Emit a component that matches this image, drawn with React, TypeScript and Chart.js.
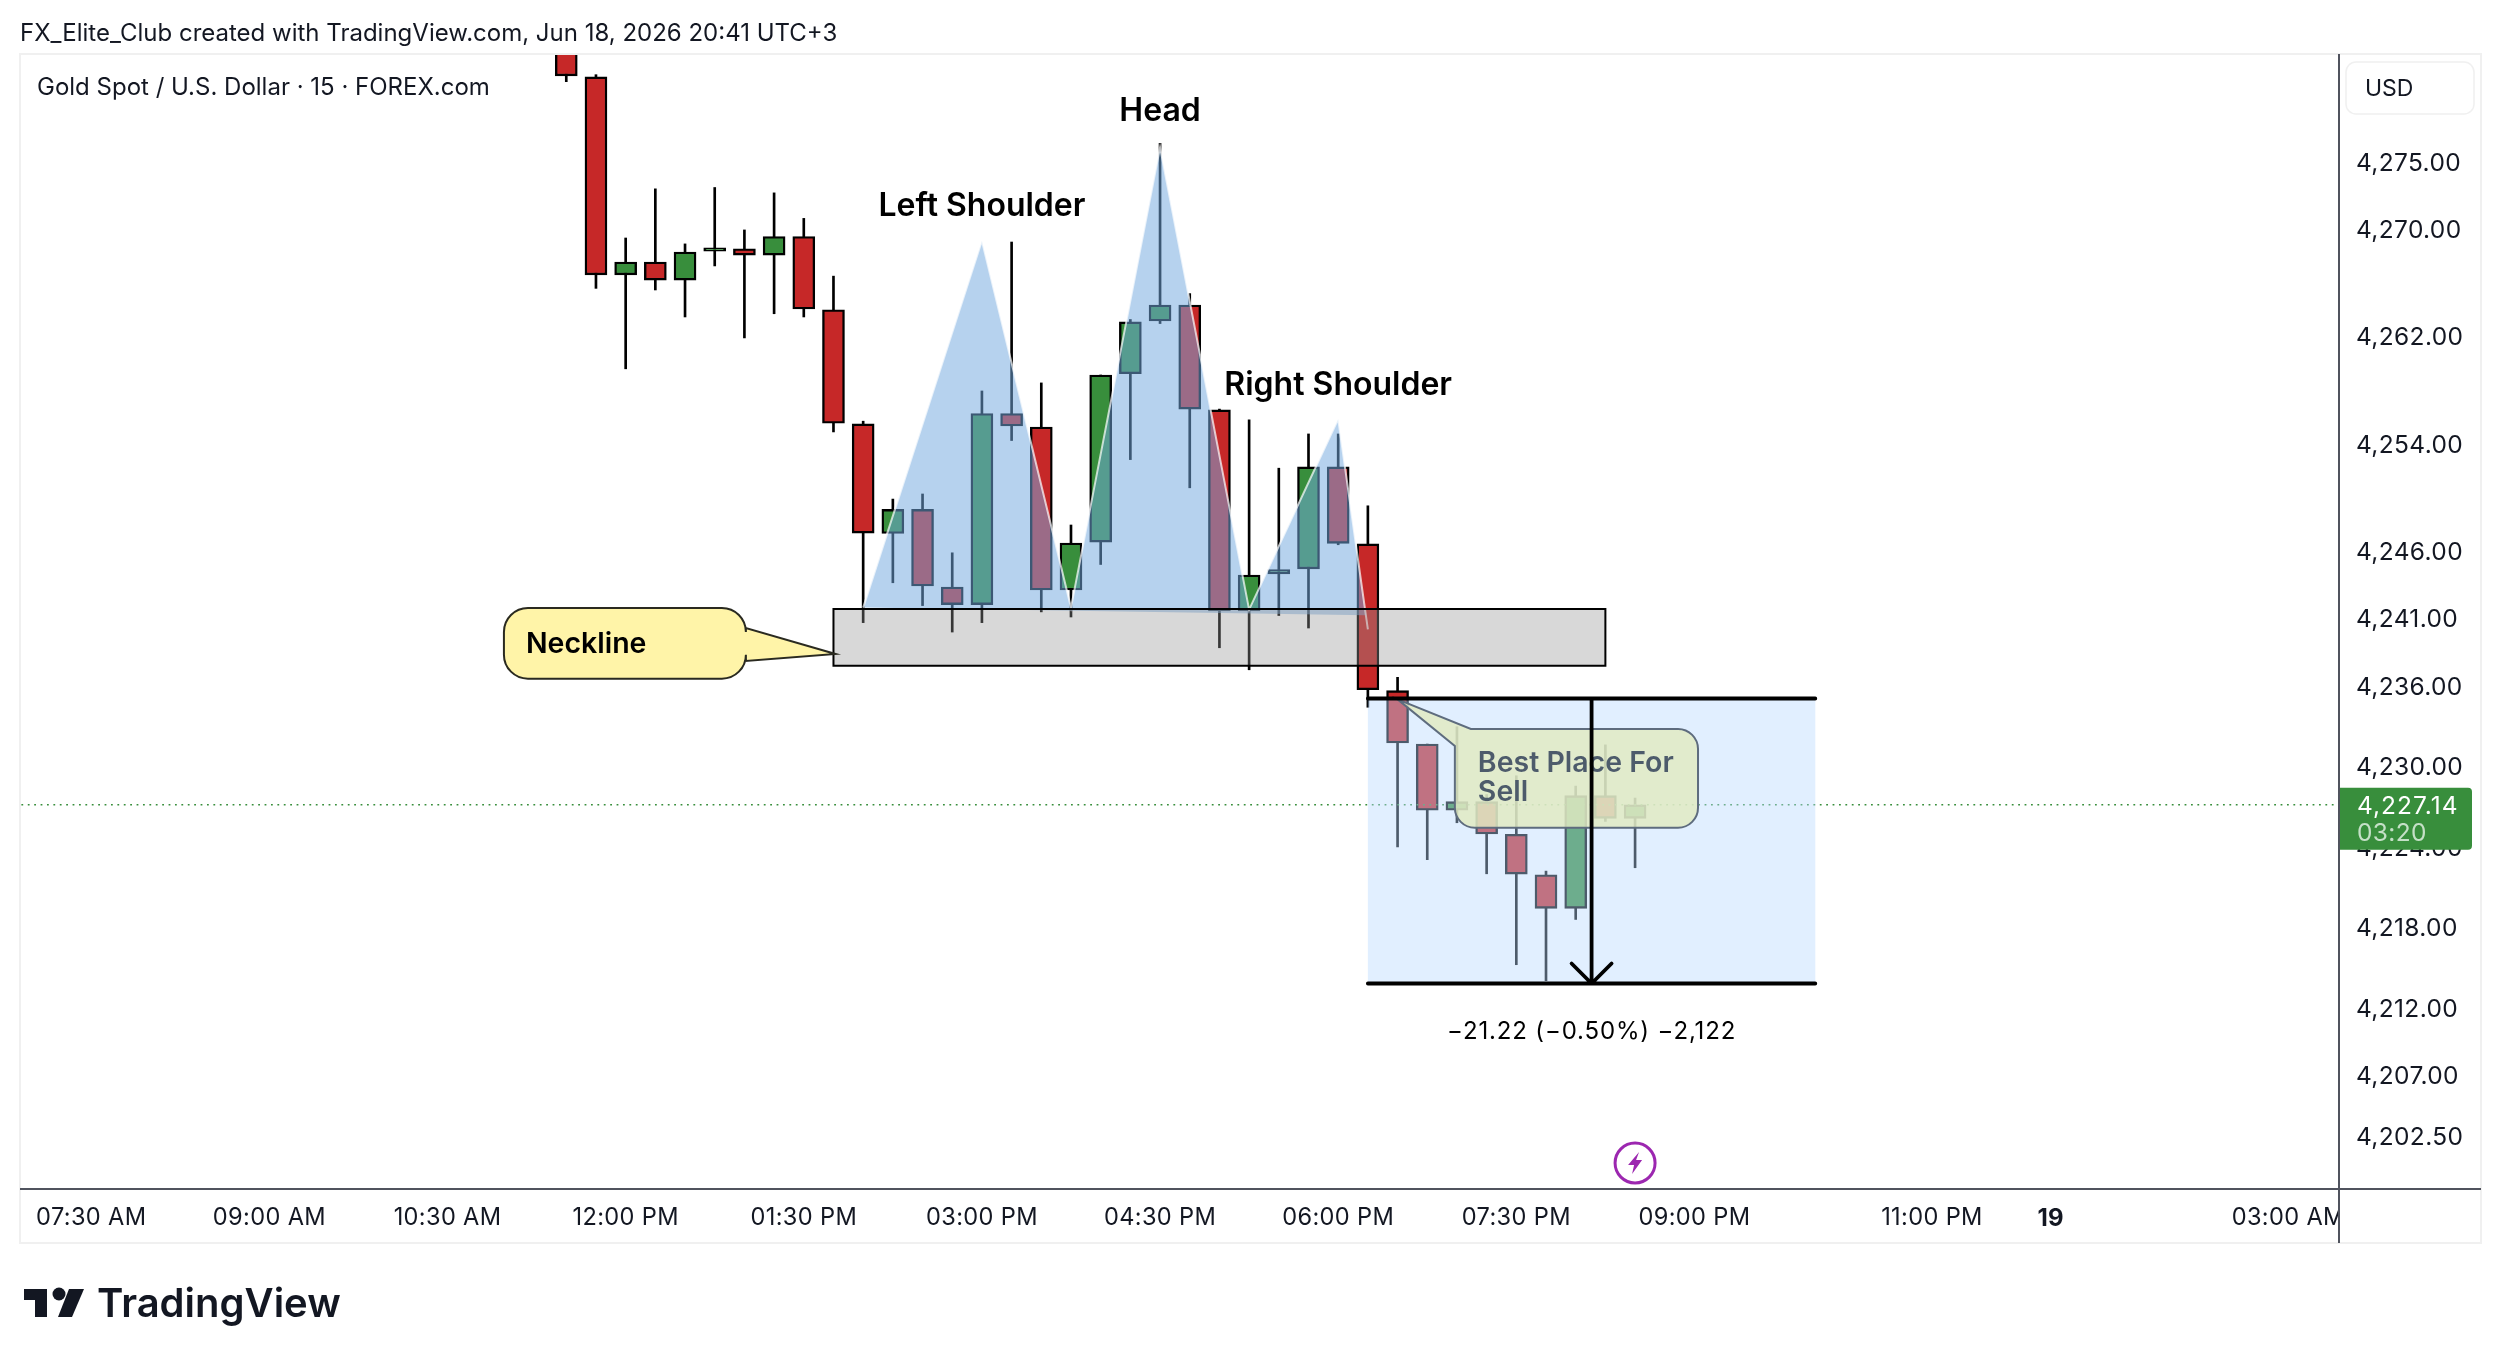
import React, { useEffect, useRef } from "react";
import { Chart, registerables } from "chart.js";

Chart.register(...registerables);

const CANVAS_W = 2502;
const CANVAS_H = 1364;
const FONT = "Inter, 'Noto Sans', sans-serif";

// 15 minute candles, first one is bar 16 (counted from the 07:30 AM label)
const firstBar = 16;
const opens = [
  4284.6, 4281.34, 4266.59, 4267.55, 4266.2, 4268.35, 4268.54, 4268.07, 4269.45, 4264.0, 4255.5, 4247.34, 4249.13,
  4243.35, 4242.04, 4256.27, 4255.27, 4243.13, 4246.7, 4259.23, 4263.16, 4264.35, 4256.54, 4241.57, 4244.32, 4244.7,
  4252.3, 4246.57, 4235.64, 4231.66, 4226.73, 4227.37, 4224.94, 4221.93, 4219.43, 4227.82, 4226.13,
];
const closes = [
  4281.41, 4266.59, 4267.55, 4266.2, 4268.3, 4268.6, 4268.07, 4269.45, 4264.05, 4255.55, 4247.37, 4249.13, 4243.43,
  4242.04, 4256.27, 4255.34, 4243.13, 4246.63, 4259.14, 4263.09, 4264.35, 4256.6, 4241.57, 4244.25, 4244.66, 4252.3,
  4246.6, 4235.7, 4231.74, 4226.73, 4227.37, 4224.96, 4221.98, 4219.43, 4227.82, 4226.13, 4227.14,
];
const highs = [
  4285, 4281.5, 4269.34, 4273.0, 4268.9, 4273.1, 4269.94, 4272.7, 4270.8, 4266.5, 4255.7, 4249.9, 4250.28, 4245.9,
  4257.95, 4269.04, 4258.55, 4247.97, 4259.14, 4263.27, 4276.39, 4265.2, 4256.6, 4255.8, 4252.2, 4254.75, 4254.75,
  4249.4, 4236.63, 4231.66, 4232.95, 4227.9, 4229.3, 4222.2, 4228.53, 4231.6, 4227.64,
];
const lows = [
  4280.98, 4265.59, 4259.6, 4265.47, 4263.46, 4267.26, 4261.9, 4263.7, 4263.46, 4254.9, 4240.7, 4243.67, 4241.97,
  4240.0, 4240.7, 4254.26, 4241.5, 4241.12, 4245.03, 4252.84, 4262.97, 4250.74, 4238.83, 4237.19, 4241.23, 4240.3,
  4246.5, 4234.4, 4224.0, 4223.05, 4225.8, 4222.0, 4215.23, 4214.04, 4218.6, 4225.9, 4222.45,
];

const priceTicks = [4275, 4270, 4262, 4254, 4246, 4241, 4236, 4230, 4224, 4218, 4212, 4207, 4202.5];
const timeTickBars = [0, 6, 12, 18, 24, 30, 36, 42, 48, 54, 62, 66, 74];
const timeTickLabels = [
  "07:30 AM", "09:00 AM", "10:30 AM", "12:00 PM", "01:30 PM", "03:00 PM", "04:30 PM",
  "06:00 PM", "07:30 PM", "09:00 PM", "11:00 PM", "19", "03:00 AM",
];

// head and shoulders outline, bar and price of every turn
const patternBars = [26, 30, 33, 36, 39, 42, 43];
const patternPrices = [4241.82, 4269.14, 4241.82, 4276.09, 4241.67, 4255.86, 4240.2];
// where the filled part of the shape stops on its way down to the last turn
const patternFillEndBar = 42.93;
const patternFillEndPrice = 4241.25;

const lastPrice = 4227.14;
const countdown = "03:20";
const measureTop = 4235.05;
const measureBottom = 4213.83;

const GREEN = "#388e3c";
const RED = "#c62828";
const TEXT = "#131722";

const fmtPrice = (v: number) =>
  v.toLocaleString("en-US", { minimumFractionDigits: 2, maximumFractionDigits: 2 });

const bars = opens.map((_, k) => firstBar + k);
const patternLine = patternBars.map((b, k) => ({ x: b, y: patternPrices[k] }));

function calloutCorners(ctx: CanvasRenderingContext2D, pts: number[][], rad: number) {
  // pts are the corners to round, pen is already placed
  pts.forEach(([x1, y1, x2, y2]) => ctx.arcTo(x1, y1, x2, y2, rad));
}

const overlayPlugin = {
  id: "overlay",
  beforeDraw(chart: any) {
    const { ctx } = chart;
    ctx.save();
    ctx.fillStyle = "#ffffff";
    ctx.fillRect(0, 0, CANVAS_W, CANVAS_H);
    ctx.restore();
    // the axis labels are a bit wider set than the plain font
    ctx.letterSpacing = "0.35px";
  },
  beforeDatasetsDraw(chart: any) {
    chart.ctx.letterSpacing = "0px";
  },
  afterDatasetsDraw(chart: any) {
    const { ctx } = chart;
    const xs = chart.scales.x;
    const ys = chart.scales.y;
    const px = (v: number) => xs.getPixelForValue(v);
    const py = (v: number) => ys.getPixelForValue(v);

    ctx.save();

    // neckline box
    ctx.fillStyle = "rgba(150,150,150,0.37)";
    ctx.strokeStyle = "#000000";
    ctx.lineWidth = 2;
    ctx.beginPath();
    ctx.rect(px(25), py(4241.72), px(51) - px(25), py(4237.49) - py(4241.72));
    ctx.fill();
    ctx.stroke();

    // neckline callout
    {
      const l = px(13.9), r = px(22.05), t = py(4241.79), b = py(4236.53), rad = 24;
      ctx.beginPath();
      ctx.moveTo(l + rad, t);
      calloutCorners(ctx, [[r, t, r, t + rad]], rad);
      ctx.lineTo(r, t + 20);
      ctx.lineTo(px(25.07), py(4238.37));
      ctx.lineTo(r, t + 53);
      calloutCorners(ctx, [[r, b, r - rad, b], [l, b, l, b - rad], [l, t, l + rad, t]], rad);
      ctx.closePath();
      ctx.fillStyle = "#fff4a8";
      ctx.strokeStyle = "#2a2a20";
      ctx.lineWidth = 2;
      ctx.fill();
      ctx.stroke();
      ctx.fillStyle = "#000000";
      ctx.font = `600 28.5px ${FONT}`;
      ctx.textAlign = "left";
      ctx.textBaseline = "middle";
      ctx.fillText("Neckline", l + 22, (t + b) / 2 + 1.5);
    }

    // sell callout
    {
      const l = px(45.93), r = px(54.12), t = py(4232.78), b = py(4225.43), rad = 20;
      ctx.beginPath();
      ctx.moveTo(l + 16, t);
      calloutCorners(ctx, [[r, t, r, t + rad], [r, b, r - rad, b], [l, b, l, b - rad]], rad);
      ctx.lineTo(l, t + 17);
      ctx.lineTo(px(44), py(4234.99));
      ctx.closePath();
      ctx.fillStyle = "rgba(255,246,150,0.83)";
      ctx.strokeStyle = "#1e1e22";
      ctx.lineWidth = 2;
      ctx.fill();
      ctx.stroke();
      ctx.fillStyle = "#000000";
      ctx.font = `600 28.5px ${FONT}`;
      ctx.textAlign = "left";
      ctx.textBaseline = "middle";
      ctx.fillText("Best Place For", l + 23, t + 34);
      ctx.fillText("Sell", l + 23, t + 63);
    }

    // measure box goes over everything below it
    const ml = px(43), mr = px(58.07), mt = py(measureTop), mb = py(measureBottom);
    ctx.fillStyle = "rgba(183,217,255,0.42)";
    ctx.fillRect(ml, mt, mr - ml, mb - mt);
    ctx.strokeStyle = "#000000";
    ctx.lineWidth = 3.8;
    ctx.lineCap = "round";
    ctx.lineJoin = "round";
    ctx.beginPath();
    ctx.moveTo(ml, mt);
    ctx.lineTo(mr, mt);
    ctx.moveTo(ml, mb);
    ctx.lineTo(mr, mb);
    const mx = (ml + mr) / 2;
    ctx.moveTo(mx, mt);
    ctx.lineTo(mx, mb);
    ctx.moveTo(mx - 20, mb - 20);
    ctx.lineTo(mx, mb);
    ctx.lineTo(mx + 20, mb - 20);
    ctx.stroke();

    ctx.fillStyle = "#000000";
    ctx.textAlign = "center";
    ctx.textBaseline = "middle";
    ctx.font = `400 24px ${FONT}`;
    ctx.letterSpacing = "0.85px";
    ctx.fillText("\u221221.22 (\u22120.50%) \u22122,122", mx, mb + 48);
    ctx.letterSpacing = "0px";

    // pattern labels
    ctx.font = `600 32px ${FONT}`;
    ctx.fillText("Left Shoulder", px(30), py(4271.7));
    ctx.fillText("Head", px(36), py(4278.75));
    ctx.fillText("Right Shoulder", px(42), py(4258.4));

    // lightning marker
    const ex = px(52), ey = 1163;
    ctx.strokeStyle = "#9c27b0";
    ctx.lineWidth = 3;
    ctx.fillStyle = "#ffffff";
    ctx.beginPath();
    ctx.arc(ex, ey, 20, 0, Math.PI * 2);
    ctx.fill();
    ctx.stroke();
    ctx.fillStyle = "#9c27b0";
    ctx.beginPath();
    ctx.moveTo(ex + 4, ey - 11);
    ctx.lineTo(ex - 7, ey + 2);
    ctx.lineTo(ex - 1, ey + 2);
    ctx.lineTo(ex - 3, ey + 11);
    ctx.lineTo(ex + 7, ey - 3);
    ctx.lineTo(ex + 1, ey - 3);
    ctx.closePath();
    ctx.fill();

    ctx.restore();
  },
  afterDraw(chart: any) {
    const { ctx, chartArea } = chart;
    const { left, right, top, bottom } = chartArea;
    const paneRight = 2481;
    const paneBottom = 1243;
    const ys = chart.scales.y;
    ctx.save();

    // time labels stop at the price axis
    ctx.fillStyle = "#ffffff";
    ctx.fillRect(right, bottom + 1, paneRight - right, paneBottom - bottom - 2);

    // pane border
    ctx.strokeStyle = "#f0f0f0";
    ctx.lineWidth = 2;
    ctx.strokeRect(left, top, paneRight - left, paneBottom - top);

    // axis lines
    ctx.strokeStyle = "#50535e";
    ctx.lineWidth = 2;
    ctx.beginPath();
    ctx.moveTo(right, top);
    ctx.lineTo(right, paneBottom);
    ctx.moveTo(left, bottom);
    ctx.lineTo(paneRight, bottom);
    ctx.stroke();

    // currency button
    ctx.strokeStyle = "#f0f0f0";
    ctx.lineWidth = 1.5;
    ctx.beginPath();
    ctx.roundRect(right + 7, 62, 128, 52, 10);
    ctx.stroke();
    ctx.fillStyle = TEXT;
    ctx.font = `400 23px ${FONT}`;
    ctx.textAlign = "left";
    ctx.textBaseline = "middle";
    ctx.fillText("USD", right + 26, 89.5);

    // last price badge
    const ly = ys.getPixelForValue(lastPrice);
    ctx.fillStyle = GREEN;
    ctx.beginPath();
    ctx.roundRect(right + 1, ly - 17, 132, 62, [0, 4, 4, 0]);
    ctx.fill();
    ctx.font = `400 24.5px ${FONT}`;
    ctx.letterSpacing = "1px";
    ctx.fillStyle = "#ffffff";
    ctx.fillText(fmtPrice(lastPrice), right + 18, ly + 1.5);
    ctx.letterSpacing = "0.35px";
    ctx.fillStyle = "#c5e0c7";
    ctx.fillText(countdown, right + 18, ly + 28.5);
    ctx.letterSpacing = "0px";

    // page header and legend
    ctx.fillStyle = TEXT;
    ctx.font = `400 24px ${FONT}`;
    ctx.fillText("FX_Elite_Club created with TradingView.com, Jun 18, 2026 20:41 UTC+3", 20, 33.5);
    ctx.fillText("Gold Spot / U.S. Dollar \u00b7 15 \u00b7 FOREX.com", 37, 87.5);

    // logo
    ctx.fillStyle = "#131722";
    ctx.fillRect(24, 1289, 23, 11);
    ctx.fillRect(35, 1289, 12, 28);
    ctx.beginPath();
    ctx.arc(59, 1294, 6.5, 0, Math.PI * 2);
    ctx.fill();
    ctx.beginPath();
    ctx.moveTo(69, 1289);
    ctx.lineTo(84, 1289);
    ctx.lineTo(72, 1317);
    ctx.lineTo(58, 1317);
    ctx.closePath();
    ctx.fill();
    ctx.font = `600 40px ${FONT}`;
    ctx.textBaseline = "alphabetic";
    ctx.fillText("TradingView", 97, 1317);

    ctx.restore();
  },
};

export default function App() {
  const canvasRef = useRef<HTMLCanvasElement | null>(null);

  useEffect(() => {
    if (!canvasRef.current) return;
    document.body.style.margin = "0";
    document.body.style.background = "#ffffff";

    const chart = new Chart(canvasRef.current, {
      type: "bar",
      data: {
        datasets: [
          {
            // wicks
            data: bars.map((b, k) => ({ x: b, y: [lows[k], highs[k]] })),
            backgroundColor: "#000000",
            borderWidth: 0,
            barThickness: 2,
            grouped: false,
            order: 6,
            clip: 0,
          },
          {
            // bodies
            data: bars.map((b, k) => ({ x: b, y: [opens[k], closes[k]] })),
            backgroundColor: bars.map((_, k) => (closes[k] >= opens[k] ? GREEN : RED)),
            borderColor: "#000000",
            borderWidth: 2.4,
            borderSkipped: false,
            barThickness: 22,
            grouped: false,
            order: 5,
            clip: 0,
          },
          {
            type: "line",
            // the last price dotted line
            data: [
              { x: -3, y: lastPrice },
              { x: 76, y: lastPrice },
            ],
            borderColor: GREEN,
            borderWidth: 1.6,
            borderDash: [1.8, 4.6],
            pointRadius: 0,
            order: 4,
          },
          {
            type: "line",
            // head and shoulders fill
            data: patternLine
              .slice(0, -1)
              .concat({ x: patternFillEndBar, y: patternFillEndPrice }, patternLine[0]),
            backgroundColor: "rgba(115,168,222,0.52)",
            borderWidth: 0,
            pointRadius: 0,
            tension: 0,
            fill: "shape",
            order: 3,
          },
          {
            type: "line",
            // head and shoulders outline
            data: patternLine,
            borderColor: "rgba(255,255,255,0.7)",
            borderWidth: 2,
            pointRadius: 0,
            tension: 0,
            fill: false,
            order: 2,
          },
        ],
      } as any,
      options: {
        animation: false,
        responsive: false,
        devicePixelRatio: 1,
        layout: { padding: { left: 20, top: 54, right: 21, bottom: 121 } },
        plugins: { legend: { display: false }, tooltip: { enabled: false } },
        scales: {
          x: {
            type: "linear",
            offset: false,
            min: -2.4,
            max: 75.71,
            grid: { display: false, drawTicks: false },
            border: { display: false },
            afterFit: (s: any) => {
              s.height = 54;
            },
            afterBuildTicks: (s: any) => {
              s.ticks = timeTickBars.map((value) => ({ value }));
            },
            ticks: {
              autoSkip: false,
              maxRotation: 0,
              padding: 15,
              color: TEXT,
              font: (c: any) =>
                c.tick && c.tick.value === 66
                  ? { family: FONT, size: 24, weight: "700" }
                  : { family: FONT, size: 23.6, weight: "400" },
              callback: (v: any) => timeTickLabels[timeTickBars.indexOf(Number(v))],
            },
          },
          y: {
            type: "linear",
            position: "right",
            min: 4198.53,
            max: 4283.04,
            grid: { display: false, drawTicks: false },
            border: { display: false },
            afterFit: (s: any) => {
              s.width = 142;
            },
            afterBuildTicks: (s: any) => {
              s.ticks = priceTicks.map((value) => ({ value }));
            },
            ticks: {
              autoSkip: false,
              padding: 17,
              labelOffset: 1.5,
              color: TEXT,
              font: { family: FONT, size: 24.5, weight: "400" },
              callback: (v: any) => fmtPrice(Number(v)),
            },
          },
        },
      } as any,
      plugins: [overlayPlugin],
    });

    return () => {
      chart.destroy();
    };
  }, []);

  return (
    <div style={{ position: "absolute", left: 0, top: 0, width: CANVAS_W, height: CANVAS_H }}>
      <canvas ref={canvasRef} width={CANVAS_W} height={CANVAS_H} style={{ display: "block" }} />
    </div>
  );
}
